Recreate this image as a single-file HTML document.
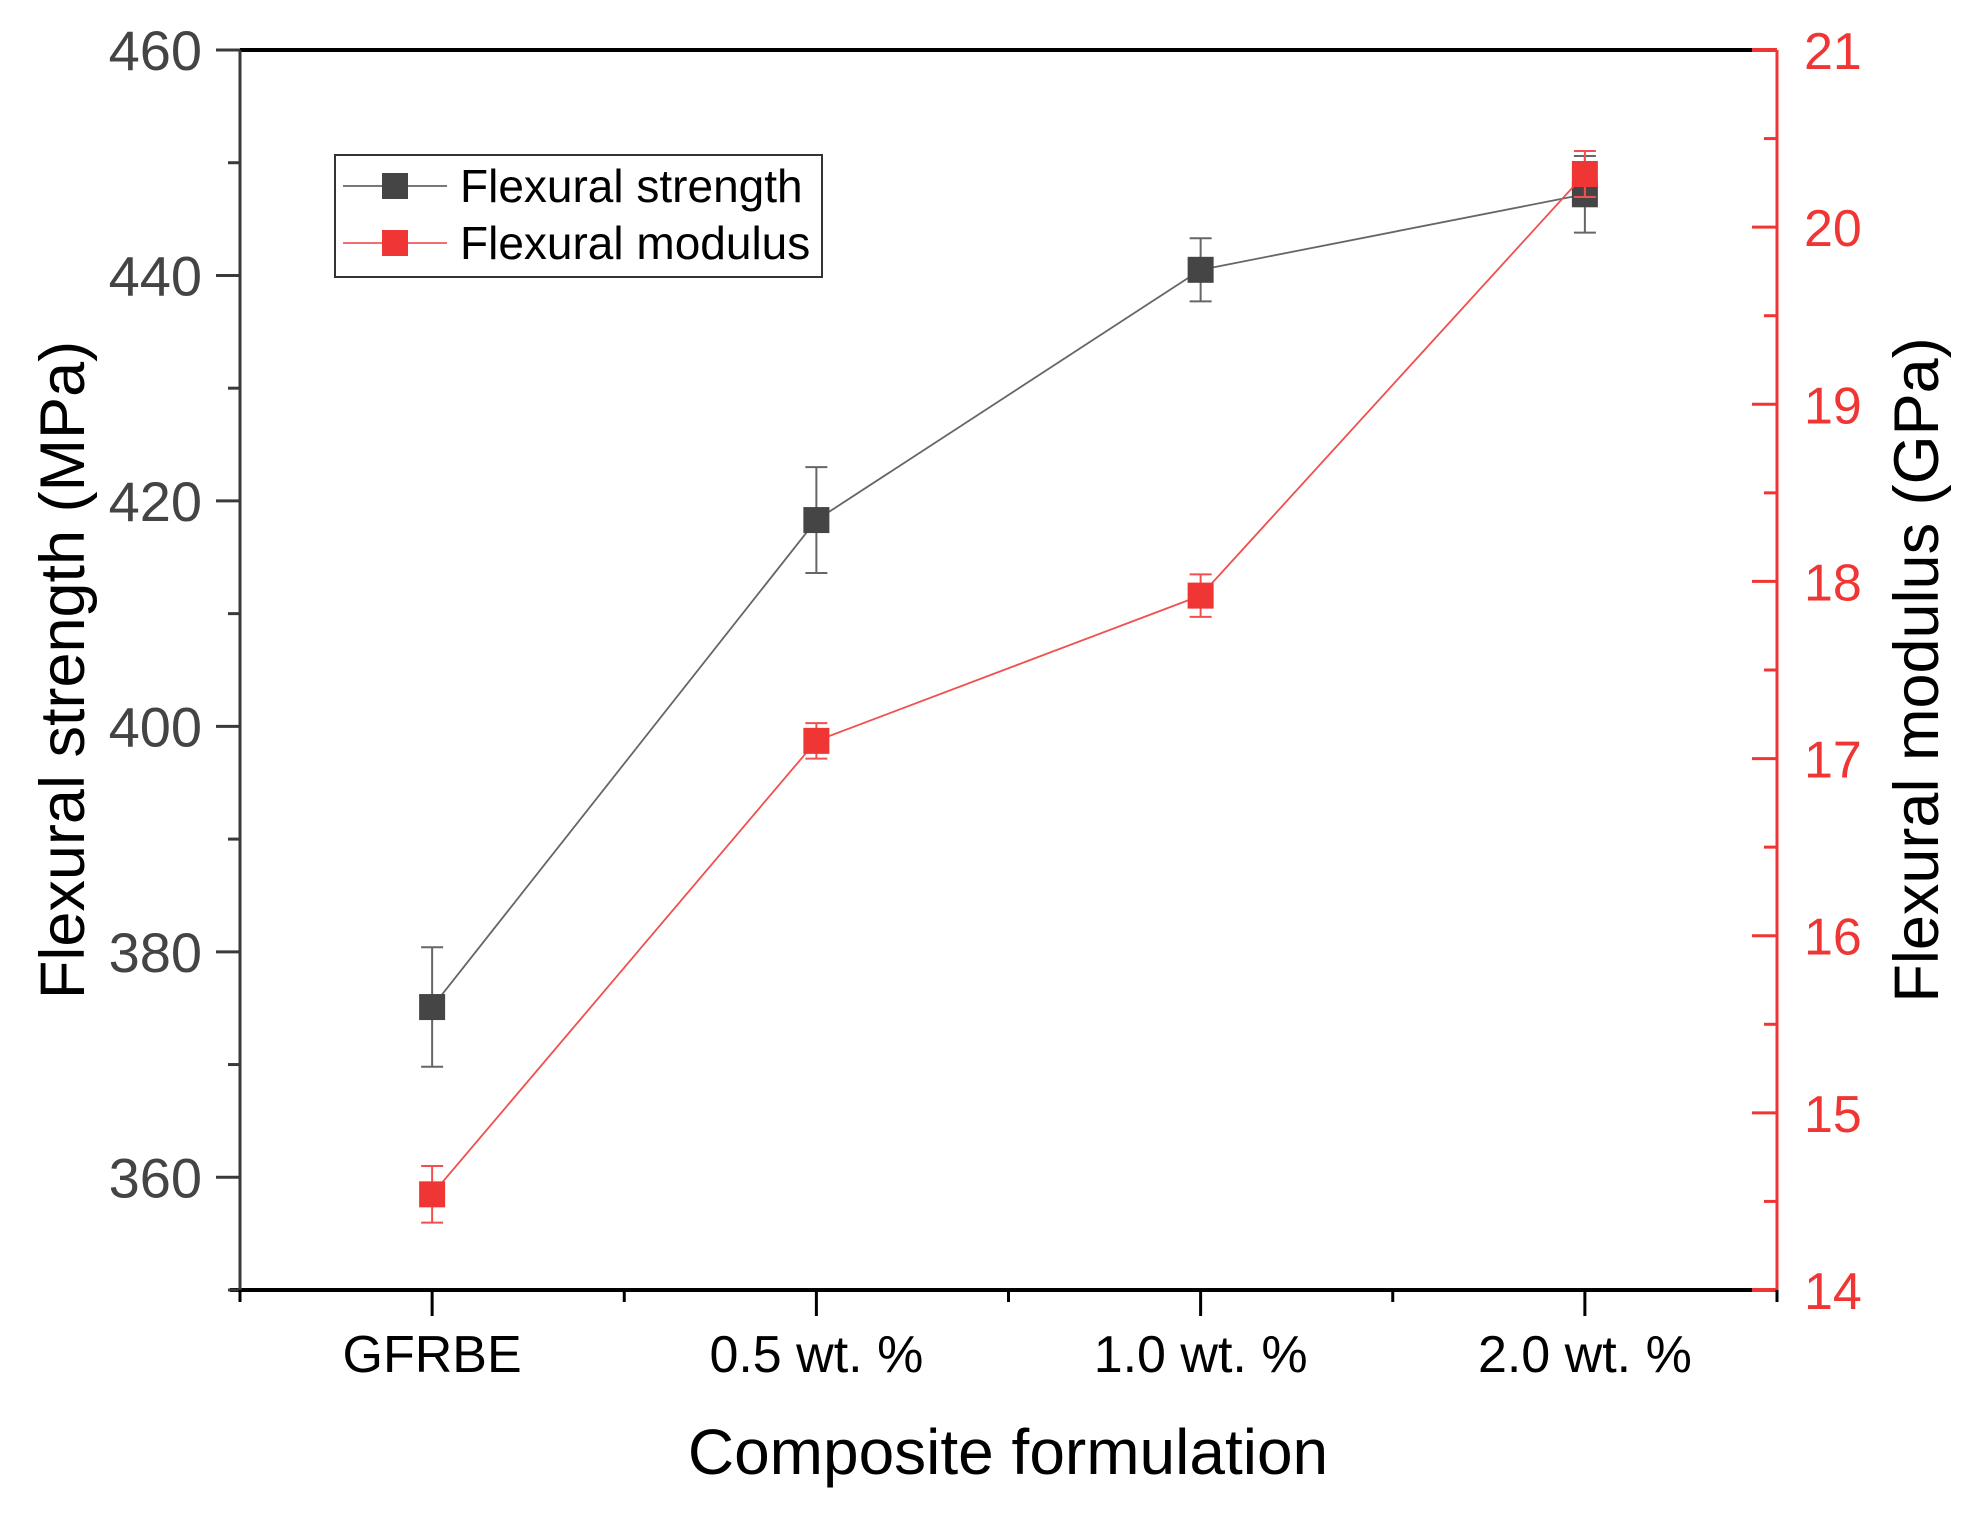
<!DOCTYPE html>
<html><head><meta charset="utf-8"><style>
html,body{margin:0;padding:0;background:#fff;}
svg{display:block;font-family:"Liberation Sans",Arial,sans-serif;}
</style></head><body>
<svg id="chart" width="1964" height="1513" viewBox="0 0 1964 1513" xmlns="http://www.w3.org/2000/svg">
<g id="axes"></g>
<g id="marks"></g>
<g id="legend">
  <rect x="335" y="155" width="487" height="122" fill="#fff" stroke="#333" stroke-width="2"/>
  <g>
    <line x1="343" y1="186" x2="447" y2="186" stroke="#777" stroke-width="2"/>
    <rect x="382" y="173" width="26" height="26" fill="#454545"/>
    <text x="460" y="202" font-size="46" fill="#000">Flexural strength</text>
  </g>
  <g>
    <line x1="343" y1="243" x2="447" y2="243" stroke="#f07070" stroke-width="2"/>
    <rect x="382" y="230" width="26" height="26" fill="#f03535"/>
    <text x="460" y="259" font-size="46" fill="#000">Flexural modulus</text>
  </g>
</g>
<text x="1008" y="1474" font-size="64" text-anchor="middle" fill="#000">Composite formulation</text>
<text transform="translate(84,670) rotate(-90)" font-size="63" text-anchor="middle" fill="#000">Flexural strength (MPa)</text>
<text transform="translate(1938,670) rotate(-90)" font-size="63" text-anchor="middle" fill="#000">Flexural modulus (GPa)</text>
</svg>
<script>
const categories = ["GFRBE", "0.5 wt. %", "1.0 wt. %", "2.0 wt. %"];
const strength = [375.1, 418.3, 440.5, 447.2];
const strengthErr = [5.3, 4.7, 2.8, 3.4];
const modulus = [14.54, 17.10, 17.92, 20.30];
const modulusErr = [0.16, 0.10, 0.12, 0.13];
const leftTicks = [360, 380, 400, 420, 440, 460];
const rightTicks = [14, 15, 16, 17, 18, 19, 20, 21];

const L = 240, R = 1777, T = 50, B = 1290;
const NS = "http://www.w3.org/2000/svg";
const xS = i => L + (i + 0.5) * (R - L) / categories.length;
const yL = v => B - (v - 350) / (460 - 350) * (B - T);
const yR = v => B - (v - 14) / (21 - 14) * (B - T);
function mk(tag, attrs, parent) {
  const e = document.createElementNS(NS, tag);
  for (const k in attrs) e.setAttribute(k, attrs[k]);
  parent.appendChild(e);
  return e;
}
const ax = document.getElementById('axes');
const mg = document.getElementById('marks');

let e;
e = mk('line', {x1: L, y1: T, x2: R, y2: T, stroke: '#000', 'stroke-width': 4}, ax);


e = mk('line', {x1: L - 10, y1: B, x2: R, y2: B, stroke: '#000', 'stroke-width': 4}, ax);


e = mk('line', {x1: L, y1: T, x2: L, y2: B, stroke: '#3a3a3a', 'stroke-width': 3}, ax);


e = mk('line', {x1: R, y1: T, x2: R, y2: B, stroke: '#f03535', 'stroke-width': 3}, ax);


mk('line', {x1: R - 25, y1: T, x2: R, y2: T, stroke: '#f03535', 'stroke-width': 4}, ax);
mk('line', {x1: R - 25, y1: B, x2: R, y2: B, stroke: '#f03535', 'stroke-width': 4}, ax);

for (let v = 350; v <= 460; v += 10) {
  const major = v % 20 === 0;
  mk('line', {x1: L - (major ? 24 : 12), y1: yL(v), x2: L, y2: yL(v), stroke: '#3a3a3a', 'stroke-width': 3}, ax);
}
leftTicks.forEach(v => {
  const t = mk('text', {x: L - 38, y: yL(v) + 20, 'font-size': 56, 'text-anchor': 'end', fill: '#444'}, ax);
  t.textContent = v;
  
  
});
for (let v = 14; v <= 21; v += 0.5) {
  const major = Math.abs(v - Math.round(v)) < 1e-6;
  mk('line', {x1: R - (major ? 25 : 13), y1: yR(v), x2: R, y2: yR(v), stroke: '#f03535', 'stroke-width': 3}, ax);
}
rightTicks.forEach(v => {
  const t = mk('text', {x: R + 27, y: yR(v) + 19, 'font-size': 52, fill: '#f03535'}, ax);
  t.textContent = v;
  
  
});
for (let i = -0.5; i <= categories.length - 0.5; i += 0.5) {
  const major = Number.isInteger(i);
  mk('line', {x1: xS(i), y1: B, x2: xS(i), y2: B + (major ? 26 : 12), stroke: '#000', 'stroke-width': 3}, ax);
}
categories.forEach((c, i) => {
  const t = mk('text', {x: xS(i), y: B + 82, 'font-size': 52, 'text-anchor': 'middle', fill: '#000'}, ax);
  t.textContent = c;
  
  
});

function series(vals, errs, yf, lineColor, fill, name) {
  const g = mk('g', {}, mg);
  
  
  const pts = vals.map((v, i) => xS(i) + ',' + yf(v)).join(' ');
  const pl = mk('polyline', {points: pts, fill: 'none', stroke: lineColor, 'stroke-width': 1.8}, g);
  
  
  vals.forEach((v, i) => {
    const x = xS(i), y1 = yf(v + errs[i]), y2 = yf(v - errs[i]);
    mk('line', {x1: x, y1: y1, x2: x, y2: y2, stroke: lineColor, 'stroke-width': 2}, g);
    mk('line', {x1: x - 11, y1: y1, x2: x + 11, y2: y1, stroke: lineColor, 'stroke-width': 2}, g);
    mk('line', {x1: x - 11, y1: y2, x2: x + 11, y2: y2, stroke: lineColor, 'stroke-width': 2}, g);
    const r = mk('rect', {x: x - 13, y: yf(v) - 13, width: 26, height: 26, fill: fill}, g);
    
    
  });
}
series(strength, strengthErr, yL, '#666', '#454545', 'flexural-strength');
series(modulus, modulusErr, yR, '#f05050', '#f03535', 'flexural-modulus');
</script>
</body></html>
